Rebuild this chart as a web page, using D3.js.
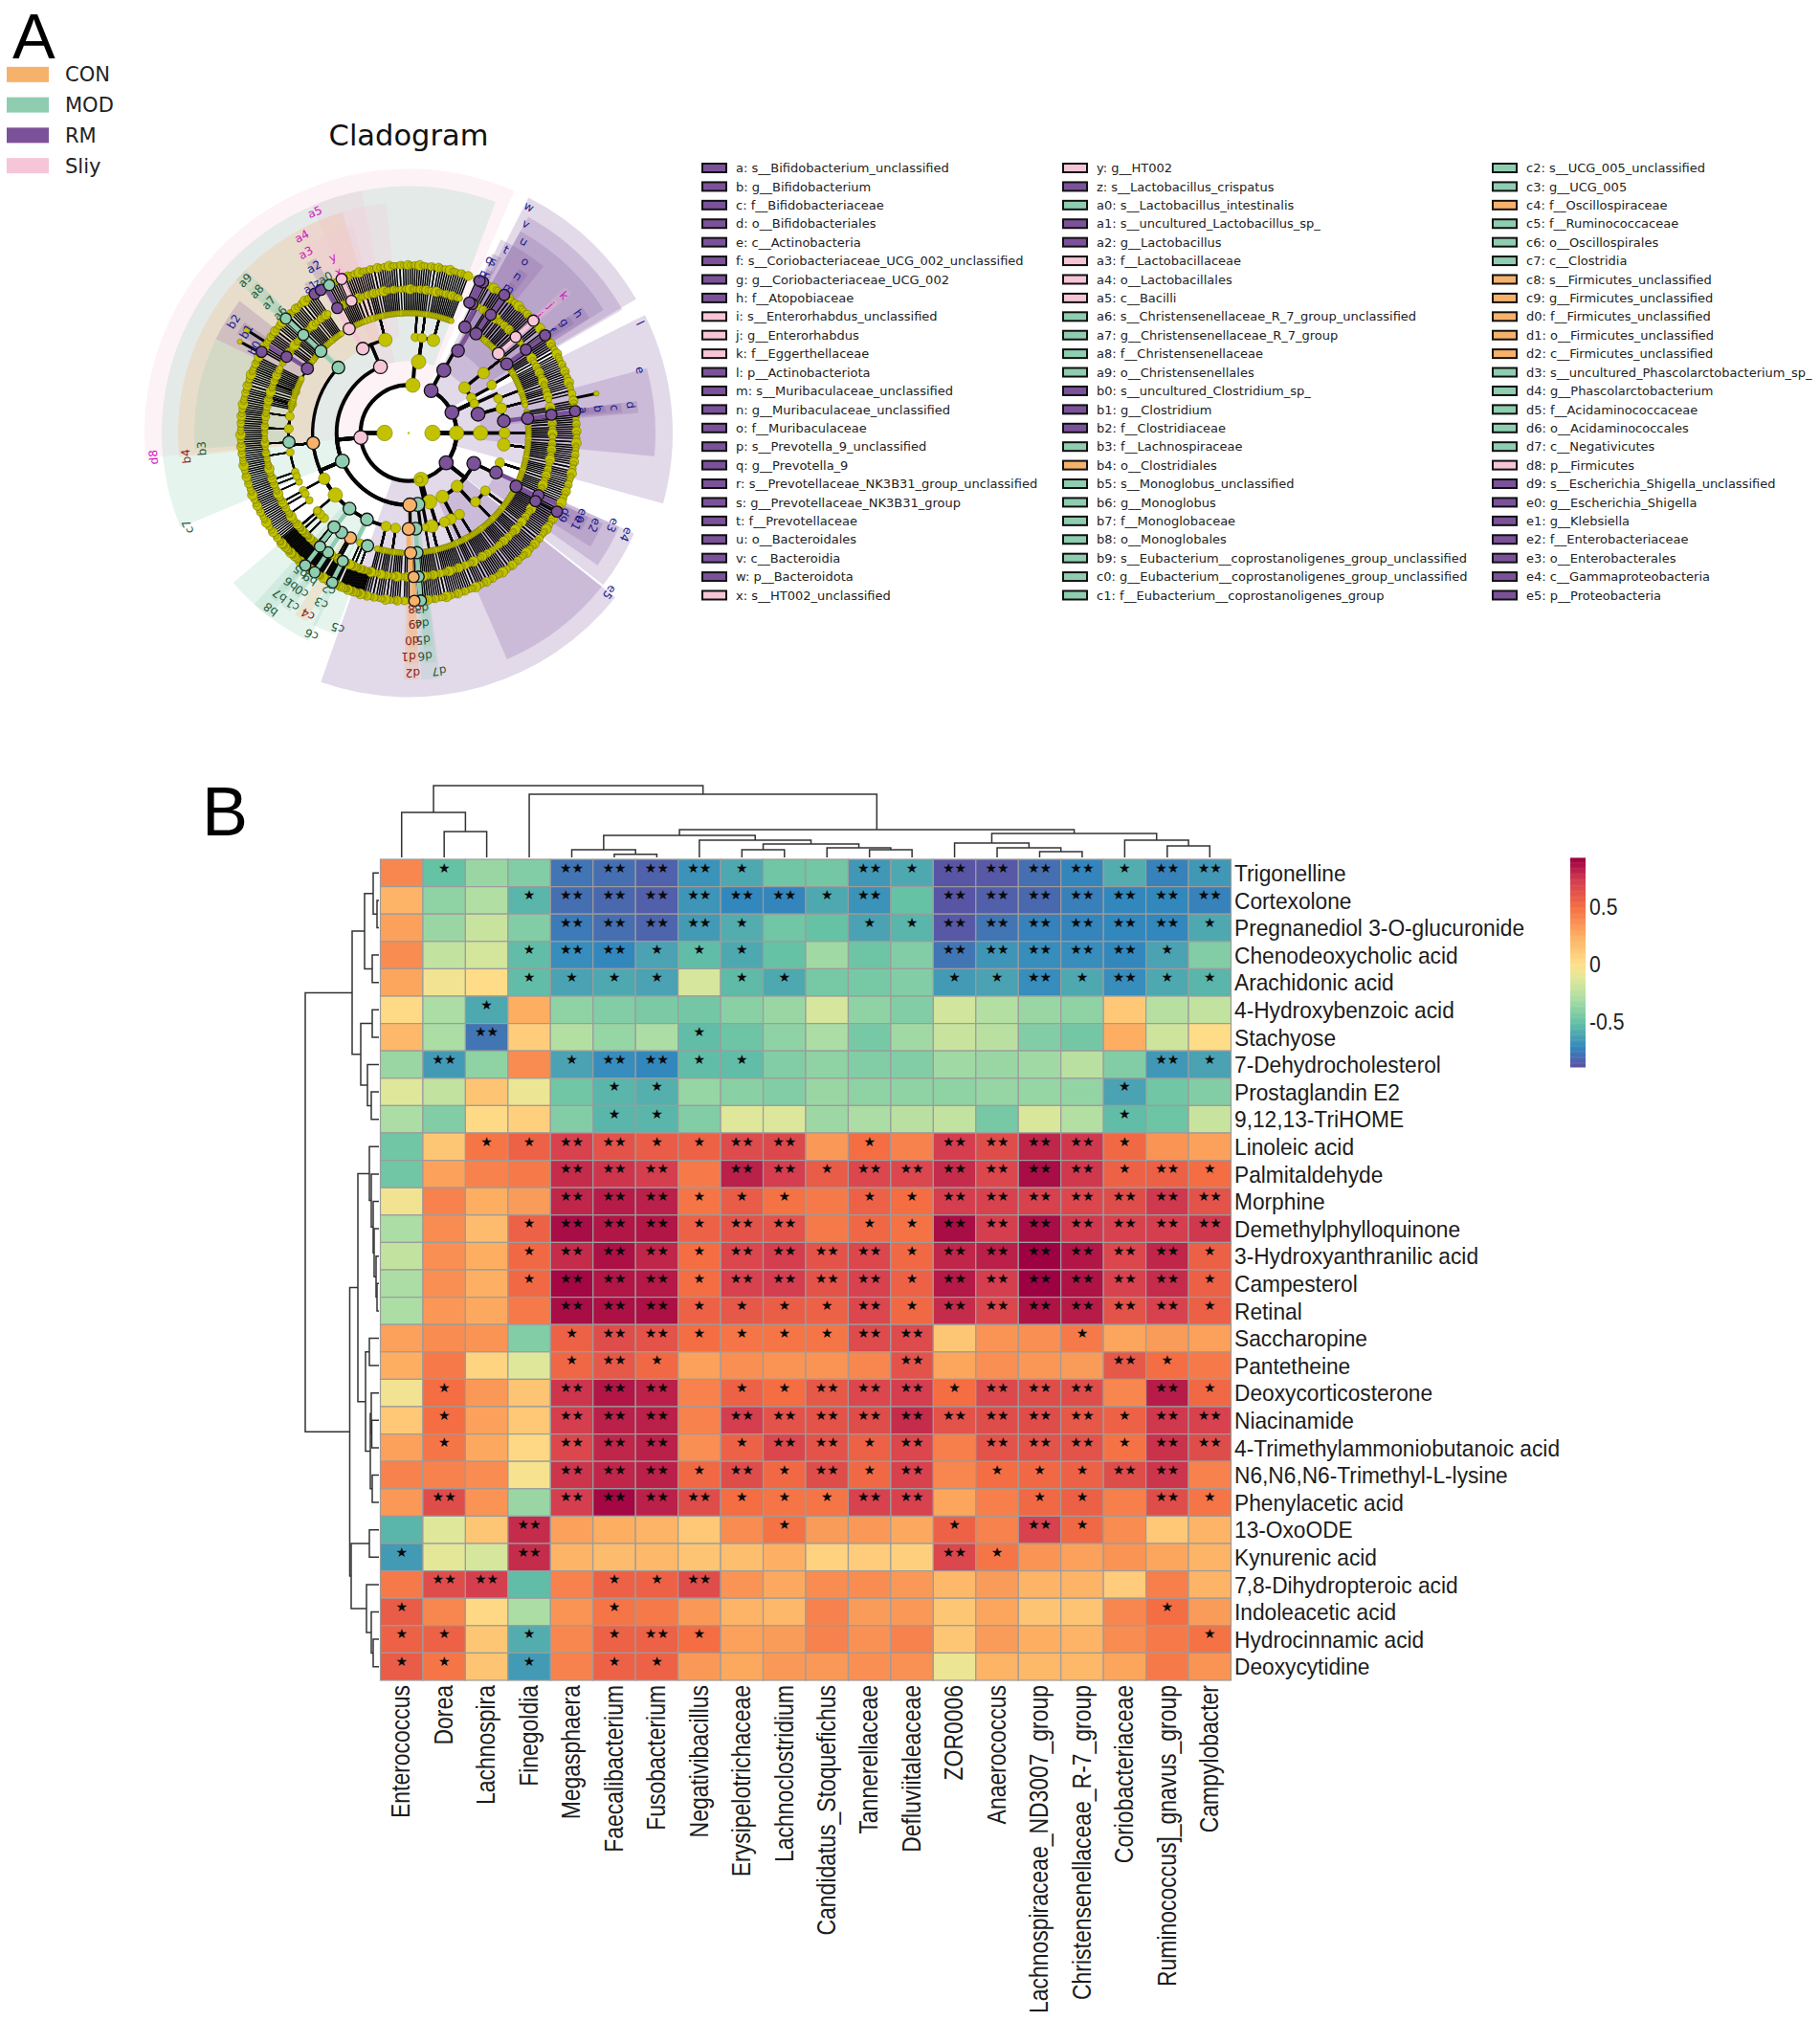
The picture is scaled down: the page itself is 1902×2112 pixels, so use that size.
<!DOCTYPE html>
<html><head><meta charset="utf-8">
<script src="https://cdn.jsdelivr.net/npm/d3@7"></script>
<style>html,body{margin:0;padding:0;background:#fff}svg{display:block}text{white-space:pre}</style>
</head><body><svg id="chart" width="1902" height="2112"></svg>
<script>
// ---------- Panel A data ----------
const groupNames = ["CON","MOD","RM","Sliy"];
const groupFill = ["#F6B26B","#8FCDB0","#7B5299","#F7C5D8"];
const groupText = ["#8b1a1a","#1f5a3a","#1a1a8c","#d018c0"];
const legendCol1 = ["a: s__Bifidobacterium_unclassified","b: g__Bifidobacterium","c: f__Bifidobacteriaceae","d: o__Bifidobacteriales","e: c__Actinobacteria","f: s__Coriobacteriaceae_UCG_002_unclassified","g: g__Coriobacteriaceae_UCG_002","h: f__Atopobiaceae","i: s__Enterorhabdus_unclassified","j: g__Enterorhabdus","k: f__Eggerthellaceae","l: p__Actinobacteriota","m: s__Muribaculaceae_unclassified","n: g__Muribaculaceae_unclassified","o: f__Muribaculaceae","p: s__Prevotella_9_unclassified","q: g__Prevotella_9","r: s__Prevotellaceae_NK3B31_group_unclassified","s: g__Prevotellaceae_NK3B31_group","t: f__Prevotellaceae","u: o__Bacteroidales","v: c__Bacteroidia","w: p__Bacteroidota","x: s__HT002_unclassified"];
const legendCol2 = ["y: g__HT002","z: s__Lactobacillus_crispatus","a0: s__Lactobacillus_intestinalis","a1: s__uncultured_Lactobacillus_sp_","a2: g__Lactobacillus","a3: f__Lactobacillaceae","a4: o__Lactobacillales","a5: c__Bacilli","a6: s__Christensenellaceae_R_7_group_unclassified","a7: g__Christensenellaceae_R_7_group","a8: f__Christensenellaceae","a9: o__Christensenellales","b0: s__uncultured_Clostridium_sp_","b1: g__Clostridium","b2: f__Clostridiaceae","b3: f__Lachnospiraceae","b4: o__Clostridiales","b5: s__Monoglobus_unclassified","b6: g__Monoglobus","b7: f__Monoglobaceae","b8: o__Monoglobales","b9: s__Eubacterium__coprostanoligenes_group_unclassified","c0: g__Eubacterium__coprostanoligenes_group_unclassified","c1: f__Eubacterium__coprostanoligenes_group"];
const legendCol3 = ["c2: s__UCG_005_unclassified","c3: g__UCG_005","c4: f__Oscillospiraceae","c5: f__Ruminococcaceae","c6: o__Oscillospirales","c7: c__Clostridia","c8: s__Firmicutes_unclassified","c9: g__Firmicutes_unclassified","d0: f__Firmicutes_unclassified","d1: o__Firmicutes_unclassified","d2: c__Firmicutes_unclassified","d3: s__uncultured_Phascolarctobacterium_sp_","d4: g__Phascolarctobacterium","d5: f__Acidaminococcaceae","d6: o__Acidaminococcales","d7: c__Negativicutes","d8: p__Firmicutes","d9: s__Escherichia_Shigella_unclassified","e0: g__Escherichia_Shigella","e1: g__Klebsiella","e2: f__Enterobacteriaceae","e3: o__Enterobacterales","e4: c__Gammaproteobacteria","e5: p__Proteobacteria"];
// group index per legend entry (0 CON, 1 MOD, 2 RM, 3 Sliy)
const legendGroup1 = [2,2,2,2,2,2,2,2,3,3,3,2,2,2,2,2,2,2,2,2,2,2,2,3];
const legendGroup2 = [3,2,1,2,2,3,3,3,1,1,1,1,2,2,2,1,0,1,1,1,1,1,1,1];
const legendGroup3 = [1,1,0,1,1,1,0,0,0,0,0,1,1,1,1,1,3,2,2,2,2,2,2,2];

// Taxonomic tree, clockwise. Node = [tag, angle or 0 for automatic, ...children].
// A string below an order is a space separated list of families, one digit per genus = species count.
// A leading # marks a tightly packed stretch of the ring.
const treeBacteroidota = ["w",28,["v",29.3,["u",31,
  ["t",28,["s",26.3,["r",26.3]],["q",25,["p",25]],"111"],
  "1 11 1",
  ["o",34.2,["n",34.8,["m",34.7]],"11"],
  "1 1 11 1 1 2 1 1 11 1 1 1 1 11 1"]]];
const treeActinobacteriota = ["l",64.6,
  ["",51,["",51.4,"1 1",["k",48.5,["j",48.1,["i",48]],"1"],"1 1",["h",54.9,["g",54.6,["f",54.4]],"11"],"1 11 1 1"]],
  ["",60.8,["",60,"1 1 2 1 1 1"]],
  ["",66,["",69,"1 1 1 1 1"]],
  ["e",74.8,["",75,"1 1 11 1 1 1 1 2 1"],
    ["d",82.8,["c",83,["b",82.7,["a",82.5],"1"],"1"],"1 1 1 2 1 1 1 11 1 1 1"]]];
const treeRightPhylum = ["",90,["",90,["",90,"1 1 1 2 1 1 1 1 1 1 1"],["",97,"1 1 2 1 1 1 1 1 1 11 1 1 1 1 1 1 1"]]];
const treeProteobacteria = ["e5",128.4,
  ["e4",115,["e3",114.3,["e2",116.4,["e0",115.6,["d9",117.9]],["e1",118.2],"1"],"1 1 1 1 1"],["",108,"1 1 1 1 1 1 1"]],
  ["",137.6,["",127,"1 1 2 1 1 1"],["",135.8,"1 1 1 11 1 1 1"]],
  ["",152,["",148,"1 1 1 1 2 1 1"],["",153.8,"1 1 1 1 1 1 1 2 1 1"]]];
const treeBottomPhylum = ["",165,["",163,["",158,"1 1 2 1 1 1 1 1"],["",166,"1 1 1 1 1 1 2 1 1 1 1 1 1 1 1 1 1 1"]]];
const treeSmallPhylum = ["",167,["",169,["",170,"1 1"]]];
const treeFirmicutes = ["d8",264.6,
  ["d7",172.7,["d6",175.8,["d5",176,["d4",176,["d3",175.8]],"1"],"1 1"]],
  ["d2",179,["d1",180,["d0",179,["c9",178,["c8",178]]]]],
  ["c7",247,
    ["",187.8,"1 1 1 1 1 2 1"],
    ["",193.6,"1 1 1 2 1 1 1"],
    ["c6",205.7,["c5",200,"#11111111111111111"],"#11111 1111",["c4",209,["c3",207.2,["c2",207]],"#11111111"],"#1111 1111",["c1",214,["c0",214,["b9",214]],"#1111111"]],
    ["b8",218,["b7",218.4,["b6",218,["b5",218]],"#11111"],"#1111111 111111"],
    ["",229.8,["",229.3,"#11111111"],"#11111111 11111111 1111"],
    ["",241.5,["",241.4,"11111"],"1111 11111"],
    ["b4",264,["",251,"1111"],"111 1111",["",260.8,"11111"],["b3",265.7,"111111"],["",272,"11111111"],["",278,"1111111"],["",284,"1111111"],["",290,"11111"],
      "1 1 1 1 1 1 2 1 1 1 1 1 1 1 1 1 1 1 1",
      ["b2",302.5,["b1",302,["b0",298.9],"1"],"111"]],
    ["a9",313,["a8",313,["a7",313,["a6",313],"1"],"1 1"],"1 1 1 2 1 1 1 1 1 1 2 1 1 1 1 1 1 2 1 1 1 1 1 1"]],
  ["a5",337,
    ["a4",331.5,["a3",330.3,["a2",330.3,["a1",326],["z",328.5],["a0",331.8]],["y",336.6,["x",336.5]],"111"],"1 1 1 1 1 1 1 1 11"],
    ["",346,["",341,"11"],["",343,"111"],"1 1 1 1 2 1 1 1 1 1 1 1 1 1 2 1"]]];
const treeTopPhylum = ["",365,["",368,["",364,"1 1 1 1"],["",368,"1 1 1 1 1 1"],["",375,"1 1 2 1 1 1 1 1 1 1 1 1 1 1 1 1 1"]]];
const cladeRoot = ["",0,
  ["",90,treeBacteroidota,treeActinobacteriota,treeRightPhylum,treeProteobacteria,treeBottomPhylum],
  ["",270,treeSmallPhylum,treeFirmicutes,treeTopPhylum]];
// Clade shading: [tag, taxonomic depth, from angle, to angle]
const cladeWedges = [
  ["d8",2,264.6,383.6],["w",2,27,59.5],["l",2,63.5,105.5],["e5",2,128.5,199.4],
  ["c7",3,247.5,380.6],["v",3,29,60],["e",3,74.8,95.4],["e4",3,114,128],["e5",3,128.5,156.5],["d7",3,172.7,177],["d2",3,177.5,181],["a5",3,337,349],
  ["b4",4,264,343.3],["a4",4,331.5,354.5],["u",4,29,57.7],["c6",4,205.7,229.5],["b8",4,217,222],["d",4,82,85],["e3",4,114,125],["a9",4,311.5,315],["d6",4,173,176],["d1",4,177.5,180.5],
  ["b3",5,265.7,296],["b2",5,296,308],["a3",5,330.3,345],["t",5,25.5,32],["o",5,32,39],["k",5,47,49.5],["h",5,54,57.5],["c",5,82,84.5],["e2",5,115,122],["c5",5,200,206.5],["c4",5,208.5,212],["c1",5,213.5,216.5],["b7",5,218,220],["a8",5,311.5,315],["d5",5,173.5,176],["d0",5,177.5,180],
  ["s",6,25,28],["n",6,34,37],["b",6,82,84],["j",6,47.5,49],["g",6,54,56.5],["b1",6,300,304],["y",6,336,339],["a2",6,329,332],["e0",6,115,118],["e1",6,118,119.5],["a7",6,312,314.5],["c0",6,213.5,215.5],["c3",6,206.5,208],["b6",6,217.5,219],
  ["r",7,25.5,27.5],["m",7,34,36],["a",7,82,83.5],["i",7,47.5,48.5],["f",7,54,56],["b0",7,298,300],["x",7,336,338],["a1",7,325,327],["a0",7,331,333],["a6",7,312.5,314],["d9",7,117,119],["c2",7,206.5,207.5],["b9",7,213.5,215],["b5",7,217.5,218.5],["d3",7,174.5,176.5],["c8",7,177.5,179]
];
// node radii of unmarked taxa in the two outer rings, repeating along the ring
const ringNodeSizes = [3.2,2.6,4.1,3.0,2.8,4.8,3.4,2.7,3.8,3.1,5.2,2.9,3.5];

// ---------- Panel B data ----------
const metabolites = ["Trigonelline","Cortexolone","Pregnanediol 3-O-glucuronide","Chenodeoxycholic acid","Arachidonic acid","4-Hydroxybenzoic acid","Stachyose","7-Dehydrocholesterol","Prostaglandin E2","9,12,13-TriHOME","Linoleic acid","Palmitaldehyde","Morphine","Demethylphylloquinone","3-Hydroxyanthranilic acid","Campesterol","Retinal","Saccharopine","Pantetheine","Deoxycorticosterone","Niacinamide","4-Trimethylammoniobutanoic acid","N6,N6,N6-Trimethyl-L-lysine","Phenylacetic acid","13-OxoODE","Kynurenic acid","7,8-Dihydropteroic acid","Indoleacetic acid","Hydrocinnamic acid","Deoxycytidine"];
const genera = ["Enterococcus","Dorea","Lachnospira","Finegoldia","Megasphaera","Faecalibacterium","Fusobacterium","Negativibacillus","Erysipelotrichaceae","Lachnoclostridium","Candidatus_Stoquefichus","Tannerellaceae","Defluviitaleaceae","ZOR0006","Anaerococcus","Lachnospiraceae_ND3007_group","Christensenellaceae_R-7_group","Coriobacteriaceae","Ruminococcus]_gnavus_group","Campylobacter"];
const corr = [
[.40,-.50,-.35,-.42,-.78,-.80,-.84,-.68,-.60,-.47,-.46,-.66,-.60,-.88,-.87,-.80,-.73,-.58,-.74,-.66],
[.22,-.38,-.28,-.55,-.80,-.82,-.85,-.67,-.72,-.73,-.60,-.68,-.50,-.88,-.85,-.82,-.75,-.72,-.72,-.74],
[.30,-.35,-.20,-.42,-.76,-.80,-.83,-.65,-.58,-.47,-.50,-.62,-.55,-.87,-.78,-.74,-.73,-.72,-.72,-.60],
[.38,-.22,-.16,-.52,-.70,-.72,-.62,-.52,-.60,-.50,-.33,-.48,-.42,-.78,-.67,-.70,-.70,-.72,-.62,-.42],
[.28,-.05,.02,-.52,-.62,-.60,-.62,-.15,-.53,-.60,-.45,-.45,-.42,-.65,-.62,-.70,-.60,-.70,-.60,-.55],
[.03,-.30,-.60,.25,-.38,-.42,-.44,-.46,-.40,-.35,-.15,-.38,-.42,-.17,-.27,-.35,-.38,.12,-.26,-.22],
[.20,-.30,-.78,.10,-.27,-.36,-.30,-.52,-.48,-.38,-.30,-.45,-.33,-.20,-.25,-.42,-.46,.25,-.18,.02],
[-.35,-.65,-.38,.38,-.62,-.70,-.72,-.52,-.52,-.42,-.38,-.42,-.42,-.33,-.35,-.33,-.25,-.42,-.66,-.62],
[-.12,-.22,.14,-.07,-.47,-.55,-.57,-.36,-.40,-.42,-.35,-.38,-.38,-.38,-.36,-.36,-.37,-.62,-.47,-.42],
[-.30,-.42,.03,.08,-.42,-.55,-.55,-.42,-.12,-.13,-.34,-.30,-.25,-.22,-.45,-.14,-.27,-.52,-.48,-.20],
[-.47,.13,.47,.55,.70,.62,.58,.55,.66,.67,.33,.50,.42,.72,.65,.80,.74,.52,.35,.30],
[-.47,.30,.42,.45,.78,.75,.72,.45,.82,.72,.58,.68,.68,.78,.68,.88,.74,.55,.56,.50],
[-.05,.42,.25,.32,.80,.83,.82,.47,.58,.48,.45,.55,.50,.72,.70,.70,.68,.65,.74,.62],
[-.30,.38,.18,.55,.88,.85,.85,.55,.62,.62,.45,.53,.48,.88,.72,.88,.74,.70,.72,.74],
[-.22,.37,.25,.52,.78,.87,.80,.50,.68,.72,.62,.68,.52,.80,.82,.92,.85,.68,.80,.56],
[-.30,.37,.24,.52,.90,.85,.84,.50,.70,.72,.62,.70,.55,.84,.72,.92,.86,.70,.78,.56],
[-.30,.34,.27,.45,.88,.87,.87,.55,.60,.57,.55,.68,.52,.78,.68,.86,.83,.62,.70,.56],
[.30,.38,.35,-.42,.55,.65,.62,.50,.47,.47,.47,.66,.66,.13,.35,.37,.45,.28,.32,.30],
[.25,.45,.06,-.12,.53,.60,.52,.30,.37,.35,.35,.40,.62,.28,.37,.34,.32,.60,.50,.45],
[-.05,.50,.33,.14,.75,.85,.82,.42,.55,.50,.60,.68,.72,.50,.67,.65,.65,.40,.83,.52],
[.12,.50,.30,.12,.72,.82,.82,.42,.72,.62,.62,.65,.78,.62,.65,.65,.60,.55,.74,.70],
[.30,.47,.27,.04,.68,.80,.82,.37,.55,.68,.62,.55,.68,.43,.62,.62,.62,.48,.76,.65],
[.42,.42,.38,-.03,.75,.80,.82,.52,.65,.52,.65,.52,.70,.40,.50,.52,.55,.65,.75,.42],
[.33,.65,.35,-.35,.72,.90,.82,.65,.50,.47,.47,.70,.70,.28,.43,.52,.56,.43,.65,.47],
[-.55,-.12,.13,.78,.30,.25,.22,.12,.38,.48,.32,.33,.27,.55,.42,.70,.52,.38,.12,.22],
[-.65,-.10,-.15,.78,.22,.18,.20,.14,.17,.24,.07,.10,.08,.68,.47,.35,.30,.35,.28,.22],
[.45,.65,.72,-.52,.42,.55,.55,.65,.35,.27,.38,.38,.33,.20,.32,.22,.22,.10,.43,.22],
[.58,.40,.04,-.30,.35,.47,.45,.33,.22,.20,.42,.32,.33,.13,.28,.14,.14,.40,.50,.32],
[.55,.55,.13,-.58,.40,.55,.55,.50,.30,.32,.42,.36,.42,.13,.32,.25,.22,.38,.45,.48],
[.58,.47,.14,-.65,.42,.55,.55,.33,.27,.33,.33,.37,.36,-.07,.22,.20,.20,.28,.45,.35]
];
// number of significance stars per cell, one string per metabolite
const signif = ["01002222100212222122","00012222221202222222","00002222100112222221","00012211100002222210","00011110110001121211","00100000000000000000","00200001000000000000","02001221100000000021","00000110000000000100","00000110000000000100","00112211220102222100","00002220221222222121","00002221110112222222","00012221220112222222","00012221222212222221","00012221222212222221","00002221111212222221","00001221111220001000","00001210000020000210","01002220112221222021","01002220222222222122","01002220122120222122","00002221212120111220","02002222111220011021","00020000010001021000","10020000000002100000","02200112000000000000","10000100000000000010","11010121000000000001","11010110000000000000"];
// dendrograms: [merge height, left, right]; numbers are column / row indices
const colDendro = [75,[47,0,[27,1,2]],[66,3,[29,[23,[8,4,[3.3,5,6]],[18,7,[14,[8,8,9],[10,10,[8,11,12]]]]],[25,[15,13,[10,14,[6,15,16]]],[18,17,[12,18,19]]]]]];
const rowDendro = [77,[28,[15,[6,0,[2,1,2]],[7,3,4]],[19,[7,5,6],[12,7,[8,8,9]]]],[30.5,[22,[10,10,[8,11,[6,12,[5,13,[3,14,[2,15,16]]]]]],[14,[10,17,18],[9,[8,19,[7.5,20,21]],[7,22,23]]]],[29,[10,24,25],[13,26,[8,27,[6,28,29]]]]]];
const colorStops = [-.9,-.72,-.5,-.3,-.12,0,.25,.5,.72,.92];
const colorRange = ["#5e4fa2","#3288bd","#66c2a5","#abdda4","#dfe89a","#fee08b","#fdae61","#f46d43","#d53e4f","#9e0142"];
const colorTicks = [0.5,0,-0.5];

// ---------- drawing ----------
const svg = d3.select("#chart");
const sans = "'Liberation Sans',Arial,sans-serif", dejavu = "'DejaVu Sans',sans-serif";
svg.append("text").attr("x",13).attr("y",60.7).attr("font-family",sans).attr("font-size",67).text("A");
svg.append("text").attr("x",211).attr("y",873).attr("font-family",sans).attr("font-size",72).text("B");

// group legend
const groupY = d3.scaleBand().domain(groupNames).range([62,189]);
const gl = svg.append("g").selectAll("g").data(groupNames).join("g").attr("transform",d=>`translate(0,${groupY(d)+groupY.bandwidth()/2})`);
gl.append("rect").attr("x",7).attr("y",-8).attr("width",44).attr("height",16).attr("fill",(d,i)=>groupFill[i]);
gl.append("text").attr("x",68).attr("dy","0.36em").attr("font-family",dejavu).attr("font-size",21).attr("fill","#222").text(d=>d);
svg.append("text").attr("x",427).attr("y",152).attr("text-anchor","middle").attr("font-family",dejavu).attr("font-size",30.5).attr("fill","#111").text("Cladogram");

// taxon key
const legendY = d3.scalePoint().domain(d3.range(24)).range([175.5,622]);
[[733,legendCol1,legendGroup1],[1110,legendCol2,legendGroup2],[1559,legendCol3,legendGroup3]].forEach(([x,labs,grp])=>{
  const g = svg.append("g").selectAll("g").data(labs).join("g").attr("transform",(d,i)=>`translate(${x},${legendY(i)})`);
  g.append("rect").attr("x",1).attr("y",-4.5).attr("width",25).attr("height",9).attr("fill",(d,i)=>groupFill[grp[i]]).attr("stroke","#111").attr("stroke-width",2);
  g.append("text").attr("transform","translate(36,0)").attr("dy","0.36em").attr("font-family",dejavu).attr("font-size",13).attr("fill","#222").text(d=>d);
});

// cladogram
const tagGroup = new Map();
[[legendCol1,legendGroup1],[legendCol2,legendGroup2],[legendCol3,legendGroup3]].forEach(([l,g])=>l.forEach((s,i)=>tagGroup.set(s.split(":")[0],g[i])));
function expand(spec,depth){
  if(typeof spec==="string"){
    const tight=spec[0]==="#", s=tight?spec.slice(1):spec;
    if(depth===5) return s.split(" ").map(f=>({tag:"",angle:0,children:[...f].map(g=>genus(+g,tight))}));
    return [...s.replace(/ /g,"")].map(g=>genus(+g,tight));
  }
  const [tag,angle,...kids]=spec;
  const node={tag,angle,children:kids.flatMap(k=>expand(k,depth+1))};
  if(!node.children.length && depth<7) node.children=[chain(depth+1)];
  return [node];
}
function genus(n,tight){return {tag:"",angle:0,children:d3.range(n).map(()=>({tag:"",angle:0,tight,children:[]}))};}
function chain(depth){return {tag:"",angle:0,children:depth<7?[chain(depth+1)]:[]};}
const root = d3.hierarchy(expand(cladeRoot,0)[0],d=>d.children);
const leafStep = n=>n.data.tight?0.42:1;
d3.cluster().size([359.2,1]).separation((a,b)=>(leafStep(a)+leafStep(b))/2)(root);
root.each(n=>{ n.ang = n.data.angle || (n.x+22); });
root.leaves().forEach((n,i)=>{n.ringIndex=i; if(n.parent) n.parent.ringIndex=i;});
const radius = d3.scaleLinear().domain([0,7]).range([0,175.5]);
const outerR = d3.scaleOrdinal().domain([2,3,4,5,6,7]).range([276,258,241,224,207,190]);
const labelR = d3.scaleOrdinal().domain([2,3,4,5,6,7]).range([268,251,234,217,200,184]);
const linkW = d3.scaleOrdinal().domain([1,2,3,4,5,6,7]).range([3,4.2,4,3.4,2.2,1.5,1.5]);
const clade = svg.append("g").attr("transform","translate(427,452.5)");
const rad = a=>a*Math.PI/180;
const tagged = root.descendants().filter(n=>n.data.tag);
const arcGen = d3.arc();
clade.append("g").selectAll("path").data(cladeWedges).join("path")
  .attr("d",([t,dep,a,b])=>arcGen({innerRadius:radius(dep),outerRadius:outerR(dep),startAngle:rad(a),endAngle:rad(b)}))
  .attr("fill",([t])=>groupFill[tagGroup.get(t)]).attr("fill-opacity",0.22);
function linkPath(n){
  const p=n.parent, rp=radius(p.depth), rc=radius(n.depth), a0=p.ang, a1=n.ang;
  const path=d3.path(), [x0,y0]=d3.pointRadial(rad(a0),rp), [x1,y1]=d3.pointRadial(rad(a0),rc);
  path.moveTo(x0,y0); path.lineTo(x1,y1);
  path.arc(0,0,rc,rad(a0-90),rad(a1-90),a1<a0);
  return path.toString();
}
const links = root.descendants().filter(n=>n.depth>1);
clade.append("g").attr("fill","none").attr("stroke","#050505").selectAll("path")
  .data(links.slice().sort((a,b)=>b.depth-a.depth)).join("path").attr("d",linkPath).attr("stroke-width",n=>linkW(n.depth));
// same group parent and child: coloured band
const bands = tagged.filter(n=>n.depth>=5&&n.parent.data.tag&&tagGroup.get(n.parent.data.tag)===tagGroup.get(n.data.tag));
clade.append("g").attr("fill","none").selectAll("path").data(bands).join("path").attr("d",linkPath)
  .attr("stroke",n=>groupFill[tagGroup.get(n.data.tag)]).attr("stroke-width",4.5);
const sizeBy = d3.scaleSqrt().domain([1,40]).range([3,8]).clamp(true);
const ringSize = n=>ringNodeSizes[(n.ringIndex+(n.depth===6?4:0))%ringNodeSizes.length];
const yellowR = n=> n.depth>=6?ringSize(n)*(n.parent.children.length>6?0.85:1): n.depth===1?8.2: n.depth===0?1.2: Math.min(sizeBy(n.leaves().length)+(n.depth<=4?0.5:0),7.6);
const plain = root.descendants().filter(n=>!n.data.tag).sort((a,b)=>a.depth-b.depth);
const pos = n=>d3.pointRadial(rad(n.ang),radius(n.depth));
clade.append("g").selectAll("circle").data(plain).join("circle")
  .attr("cx",n=>pos(n)[0]).attr("cy",n=>pos(n)[1]).attr("r",yellowR)
  .attr("fill","#c2c200").attr("stroke","#6b6b00").attr("stroke-width",n=>n.depth===0?0:0.5);
clade.append("g").selectAll("circle").data(tagged).join("circle")
  .attr("cx",n=>pos(n)[0]).attr("cy",n=>pos(n)[1]).attr("r",n=>n.depth>=6?5.8:n.depth===5?6.3:n.depth===4?6.6:7.2)
  .attr("fill",n=>groupFill[tagGroup.get(n.data.tag)]).attr("stroke","#111").attr("stroke-width",1.3);
clade.append("g").selectAll("text").data(tagged).join("text")
  .attr("transform",n=>{const [x,y]=d3.pointRadial(rad(n.ang),labelR(n.depth));return `translate(${x},${y}) rotate(${n.ang})`;})
  .attr("text-anchor","middle").attr("dy","0.36em").attr("font-family",dejavu).attr("font-size",12)
  .attr("fill",n=>groupText[tagGroup.get(n.data.tag)]).text(n=>n.data.tag);

// heat map
const x = d3.scaleBand().domain(d3.range(genera.length)).range([397.5,1286.5]);
const y = d3.scaleBand().domain(d3.range(metabolites.length)).range([898,1756]);
const color = d3.scaleLinear().domain(colorStops).range(colorRange).clamp(true);
const cells = corr.flatMap((row,r)=>row.map((v,c)=>({r,c,v,s:+signif[r][c]})));
const heat = svg.append("g");
heat.selectAll("rect").data(cells).join("rect").attr("x",d=>x(d.c)).attr("y",d=>y(d.r)).attr("width",x.bandwidth()).attr("height",y.bandwidth())
  .attr("fill",d=>color(d.v)).attr("stroke","#9c9c9c").attr("stroke-width",1.2);
heat.selectAll("text").data(cells.filter(d=>d.s>0)).join("text").attr("x",d=>x(d.c)+x.bandwidth()/2).attr("y",d=>y(d.r)+8.5)
  .attr("dy","0.36em").attr("text-anchor","middle").attr("font-family",dejavu).attr("font-size",14).attr("fill","#0a0a0a").text(d=>"★".repeat(d.s));
svg.append("g").selectAll("text").data(metabolites).join("text")
  .attr("transform",(d,i)=>`translate(1290,${y(i)+y.bandwidth()/2}) scale(0.947,1)`).attr("dy","0.36em")
  .attr("font-family",sans).attr("font-size",24).attr("fill","#1c1c1c").text(d=>d);
svg.append("g").selectAll("text").data(genera).join("text")
  .attr("transform",(d,i)=>`translate(${x(i)+x.bandwidth()/2-1},1761) rotate(-90) scale(0.85,1)`).attr("dy","0.36em").attr("text-anchor","end")
  .attr("font-family",sans).attr("font-size",27).attr("fill","#1c1c1c").text(d=>d);

// dendrograms
function layoutDendro(spec,scale){
  const h=d3.hierarchy(spec,d=>Array.isArray(d)?d.slice(1):null);
  h.eachAfter(n=>{
    if(n.children){n.p=(n.children[0].p+n.children[n.children.length-1].p)/2;n.h=n.data[0];}
    else{n.p=scale(n.data)+scale.bandwidth()/2;n.h=0;}
  });
  return h;
}
const colD = layoutDendro(colDendro,x), rowD = layoutDendro(rowDendro,y);
svg.append("g").attr("fill","none").attr("stroke","#333").attr("stroke-width",1.5).selectAll("path")
  .data(colD.descendants().filter(n=>n.children)).join("path")
  .attr("d",n=>{const [a,b]=n.children;return d3.line()([[a.p,896-a.h],[a.p,896-n.h],[b.p,896-n.h],[b.p,896-b.h]]);});
svg.append("g").attr("fill","none").attr("stroke","#333").attr("stroke-width",1.5).selectAll("path")
  .data(rowD.descendants().filter(n=>n.children)).join("path")
  .attr("d",n=>{const [a,b]=n.children;return d3.line()([[396-a.h,a.p],[396-n.h,a.p],[396-n.h,b.p],[396-b.h,b.p]]);});

// colour bar
const cbY = d3.scaleLinear().domain([-0.89,0.925]).range([1115,897]);
const cb = svg.append("g");
cb.selectAll("rect").data(d3.range(-0.89,0.925,0.01)).join("rect").attr("x",1641).attr("width",16)
  .attr("y",d=>cbY(d+0.01)).attr("height",d=>cbY(d)-cbY(d+0.01)+0.5).attr("fill",d=>color(d));
cb.selectAll("text").data(colorTicks).join("text").attr("transform",d=>`translate(1661,${cbY(d)}) scale(0.92,1)`).attr("dy","0.36em")
  .attr("font-family",sans).attr("font-size",23).attr("fill","#222").text(d=>d);
</script></body></html>
